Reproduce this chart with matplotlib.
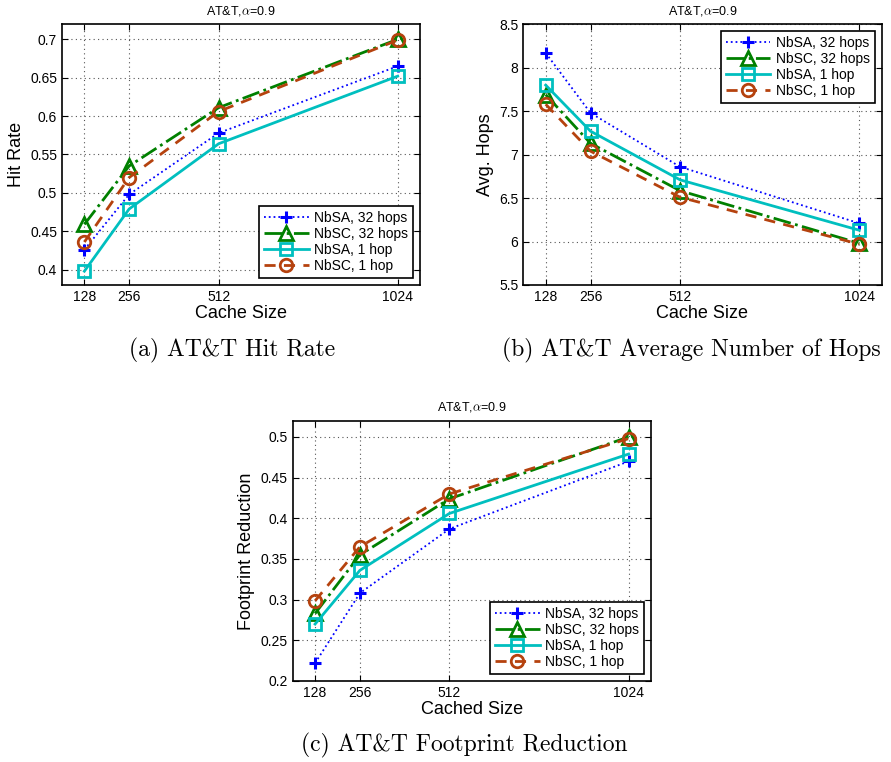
import matplotlib
matplotlib.use("Agg")
import matplotlib.pyplot as plt

cache_sizes = [128, 256, 512, 1024]
x_ticklabels = ["128", "256", "512", "1024"]
series_names = ["NbSA, 32 hops", "NbSC, 32 hops", "NbSA, 1 hop", "NbSC, 1 hop"]

hit_nbsa32 = [0.426, 0.498, 0.578, 0.665]
hit_nbsc32 = [0.459, 0.535, 0.611, 0.700]
hit_nbsa1 = [0.398, 0.479, 0.564, 0.652]
hit_nbsc1 = [0.436, 0.520, 0.606, 0.699]

hops_nbsa32 = [8.17, 7.48, 6.86, 6.21]
hops_nbsc32 = [7.69, 7.13, 6.585, 5.98]
hops_nbsa1 = [7.80, 7.27, 6.71, 6.13]
hops_nbsc1 = [7.58, 7.04, 6.51, 5.97]

fp_nbsa32 = [0.222, 0.308, 0.387, 0.470]
fp_nbsc32 = [0.283, 0.355, 0.424, 0.500]
fp_nbsa1 = [0.270, 0.336, 0.406, 0.479]
fp_nbsc1 = [0.2986, 0.365, 0.430, 0.498]

hit_yticks = [0.4, 0.45, 0.5, 0.55, 0.6, 0.65, 0.7]
hit_yticklabels = ["0.4", "0.45", "0.5", "0.55", "0.6", "0.65", "0.7"]
hops_yticks = [5.5, 6, 6.5, 7, 7.5, 8, 8.5]
hops_yticklabels = ["5.5", "6", "6.5", "7", "7.5", "8", "8.5"]
fp_yticks = [0.2, 0.25, 0.3, 0.35, 0.4, 0.45, 0.5]
fp_yticklabels = ["0.2", "0.25", "0.3", "0.35", "0.4", "0.45", "0.5"]

title_text = r"AT&T,$\alpha$=0.9"
captions = ["(a) AT&T Hit Rate", "(b) AT&T Average Number of Hops", "(c) AT&T Footprint Reduction"]

plt.rcParams['font.family'] = ['Liberation Sans', 'DejaVu Sans']
plt.rcParams['mathtext.fontset'] = 'cm'

styles = [
    dict(color='#0000FF', linestyle=':', linewidth=1.3, marker='+', markersize=9, markeredgewidth=2.2),
    dict(color='#008000', linestyle='-.', linewidth=2.0, marker='^', markersize=10, markerfacecolor='none', markeredgewidth=2.0),
    dict(color='#00BFBF', linestyle='-', linewidth=2.0, marker='s', markersize=8, markerfacecolor='none', markeredgewidth=2.0),
    dict(color='#B5420E', linestyle=(0, (4, 3)), linewidth=2.0, marker='o', markersize=9, markerfacecolor='none', markeredgewidth=2.0),
]

W, H = 891, 762
fig = plt.figure(figsize=(W / 100, H / 100), dpi=100)

def make_axes(l, t, r, b):
    return fig.add_axes([l / W, 1 - b / H, (r - l) / W, (b - t) / H])

ax_a = make_axes(62, 24, 420, 285)
ax_b = make_axes(523.3, 24.3, 881.7, 285)
ax_c = make_axes(292.7, 420.7, 651, 681)

panels = [
    (ax_a, [hit_nbsa32, hit_nbsc32, hit_nbsa1, hit_nbsc1], (0.38, 0.72), hit_yticks, hit_yticklabels,
     "Hit Rate", "Cache Size", "lower right"),
    (ax_b, [hops_nbsa32, hops_nbsc32, hops_nbsa1, hops_nbsc1], (5.5, 8.5), hops_yticks, hops_yticklabels,
     "Avg. Hops", "Cache Size", "upper right"),
    (ax_c, [fp_nbsa32, fp_nbsc32, fp_nbsa1, fp_nbsc1], (0.2, 0.52), fp_yticks, fp_yticklabels,
     "Footprint Reduction", "Cached Size", "lower right"),
]

for ax, data, ylim, yt, ytl, ylabel, xlabel, loc in panels:
    for vals, name, st in zip(data, series_names, styles):
        ax.plot(cache_sizes, vals, label=name, **st)
    ax.set_xlim(64, 1088)
    ax.set_ylim(*ylim)
    ax.set_xticks(cache_sizes)
    ax.set_xticklabels(x_ticklabels)
    ax.set_yticks(yt)
    ax.set_yticklabels(ytl)
    ax.grid(True, linestyle=(0, (1, 3)), color='#555555', linewidth=0.8)
    ax.tick_params(direction='in', top=True, right=True, labelsize=10, length=4, width=0.8)
    for sp in ax.spines.values():
        sp.set_linewidth(1.2)
    ax.set_ylabel(ylabel, fontsize=13, labelpad=4)
    ax.set_xlabel(xlabel, fontsize=13, labelpad=1)
    ax.set_title(title_text, fontsize=9, pad=7)
    leg = ax.legend(loc=loc, fontsize=10, handlelength=3.2, handletextpad=0.4,
                    labelspacing=0.15, borderpad=0.35, fancybox=False, framealpha=1,
                    borderaxespad=0.5)
    leg.get_frame().set_edgecolor('black')
    leg.get_frame().set_linewidth(1.2)

fig.text(232 / W, 1 - 350 / H, captions[0], ha='center', va='center', fontsize=17, family='cmr10')
fig.text(691 / W, 1 - 350 / H, captions[1], ha='center', va='center', fontsize=17, family='cmr10')
fig.text(464 / W, 1 - 745 / H, captions[2], ha='center', va='center', fontsize=17, family='cmr10')

fig.savefig("out.png", dpi=100)
